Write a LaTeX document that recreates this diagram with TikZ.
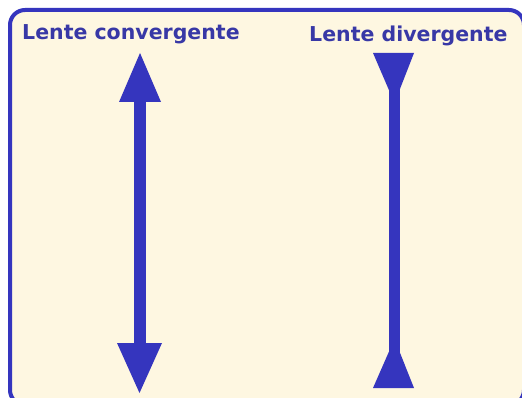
\documentclass[tikz,border=0pt]{standalone}
\usepackage{fontspec}
\newfontfamily\labelfont{DejaVu Sans}
\definecolor{lensblue}{HTML}{3535BE}
\definecolor{textblue}{HTML}{3838A6}
\definecolor{paper}{HTML}{FEF7E1}
\begin{document}
\begin{tikzpicture}[x=1pt,y=-1pt,
  lbl/.style={font=\labelfont\bfseries\fontsize{20.5}{24}\selectfont, text=textblue, inner sep=0pt, anchor=base west},
  lensfill/.style={fill=lensblue, draw=none}]
\useasboundingbox (0,0) rectangle (522,398);
\fill[white] (0,0) rectangle (522,398);
% frame (right and bottom edges run off the picture)
\begin{scope}
\clip (0,0) rectangle (522,398);
\draw[line width=4pt, draw=lensblue, fill=paper, rounded corners=15pt] (10,10) rectangle (524,405);
\end{scope}
% titles
\node[lbl] (conv) at (22,40) {Lente convergente};
\node[lbl] (div) at (309,42) {Lente divergente};
% convergent lens
\fill[lensfill] (134,100) rectangle (146,345);
\fill[lensfill] (119,102) -- (161,102) -- (140,53) -- cycle;
\fill[lensfill] (117,343) -- (162,343) -- (139.5,393) -- cycle;
% divergent lens
\fill[lensfill] (389,55) rectangle (400,386);
\fill[lensfill] (373,53) -- (414,53) -- (394.5,103) -- cycle;
\fill[lensfill] (373,388) -- (414,388) -- (394.5,339) -- cycle;
\end{tikzpicture}
\end{document}
